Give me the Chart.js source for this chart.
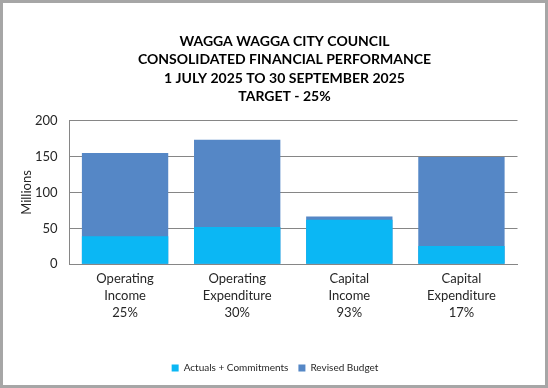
<!DOCTYPE html>
<html>
<head>
<meta charset="utf-8">
<script src="https://cdn.jsdelivr.net/npm/chart.js@4"></script>
<style>
  html, body { margin: 0; padding: 0; background: #fff; }
  #frame {
    width: 548px; height: 388px; box-sizing: border-box;
    border: 3px solid #a6a6a6; background: #fff;
  }
  #frame canvas { display: block; }
</style>
</head>
<body>
<div id="frame"><canvas id="perfChart" width="542" height="382"></canvas></div>
<script>
// Values in millions
const categoryNames = [['Operating', 'Income'], ['Operating', 'Expenditure'], ['Capital', 'Income'], ['Capital', 'Expenditure']];
const percentLabels = ['25%', '30%', '93%', '17%'];
const actualsCommitments = [39, 52, 62, 25.5];
const revisedBudget = [155, 173.5, 66.5, 149.5];
const yTicks = [0, 50, 100, 150, 200];

const titleLines = [
    'WAGGA WAGGA CITY COUNCIL',
    'CONSOLIDATED FINANCIAL PERFORMANCE',
    '1 JULY 2025 TO 30 SEPTEMBER 2025',
    'TARGET - 25%'
];

const labels = categoryNames.map((name, i) => [...name, percentLabels[i]]);
const fontFamily = 'Lato, "Open Sans", sans-serif';
const axisGray = '#868686';

// legend in the original sits a little left of the title's centre
const legendShift = {
    id: 'legendShift',
    afterLayout(chart) {
        chart.legend.left -= 9.5;
        chart.legend.right -= 9.5;
    }
};

const ctx = document.getElementById('perfChart').getContext('2d');
new Chart(ctx, {
    type: 'bar',
    data: {
        labels: labels,
        datasets: [
            {
                label: 'Actuals + Commitments',
                data: actualsCommitments,
                backgroundColor: '#0bb7f4',
                barPercentage: 0.77,
                categoryPercentage: 1
            },
            {
                label: 'Revised Budget',
                data: revisedBudget,
                backgroundColor: '#5587c6',
                barPercentage: 0.77,
                categoryPercentage: 1
            }
        ]
    },
    options: {
        responsive: false,
        animation: false,
        layout: { padding: { left: 21, right: 0, top: 0, bottom: 2 } },
        scales: {
            x: {
                stacked: true, // bars overlap, actuals drawn in front
                grid: { display: false, drawTicks: false },
                border: { display: true, color: axisGray },
                ticks: {
                    color: '#262626',
                    font: { family: fontFamily, size: 13, lineHeight: 1.3 },
                    padding: 6,
                    maxRotation: 0
                },
                afterFit: (scale) => { scale.height = 88.7; }
            },
            y: {
                stacked: false,
                min: 0,
                max: 200,
                afterBuildTicks: (scale) => { scale.ticks = yTicks.map(v => ({ value: v })); },
                grid: { color: axisGray, drawTicks: false },
                border: { display: true, color: axisGray },
                ticks: {
                    color: '#262626',
                    font: { family: fontFamily, size: 13 },
                    padding: 11.5
                },
                title: {
                    display: true,
                    text: 'Millions',
                    color: '#262626',
                    font: { family: fontFamily, size: 13, lineHeight: 0.5 },
                    padding: { top: 0, bottom: 0 }
                },
                afterFit: (scale) => { scale.width = 45; }
            },
            yRight: {
                position: 'right',
                display: true,
                grid: { display: false, drawTicks: false },
                border: { display: false },
                ticks: { display: false },
                afterFit: (scale) => { scale.width = 27.5; }
            }
        },
        plugins: {
            title: {
                display: true,
                text: titleLines,
                color: '#000',
                font: { family: fontFamily, size: 14, weight: 'bold', lineHeight: 18.5 / 14 },
                padding: { top: 28.75, bottom: 14.95 }
            },
            legend: {
                position: 'bottom',
                labels: {
                    color: '#262626',
                    font: { family: fontFamily, size: 10 },
                    boxWidth: 7,
                    boxHeight: 7,
                    padding: 10
                }
            },
            tooltip: { enabled: false }
        }
    },
    plugins: [legendShift]
});
</script>
</body>
</html>
